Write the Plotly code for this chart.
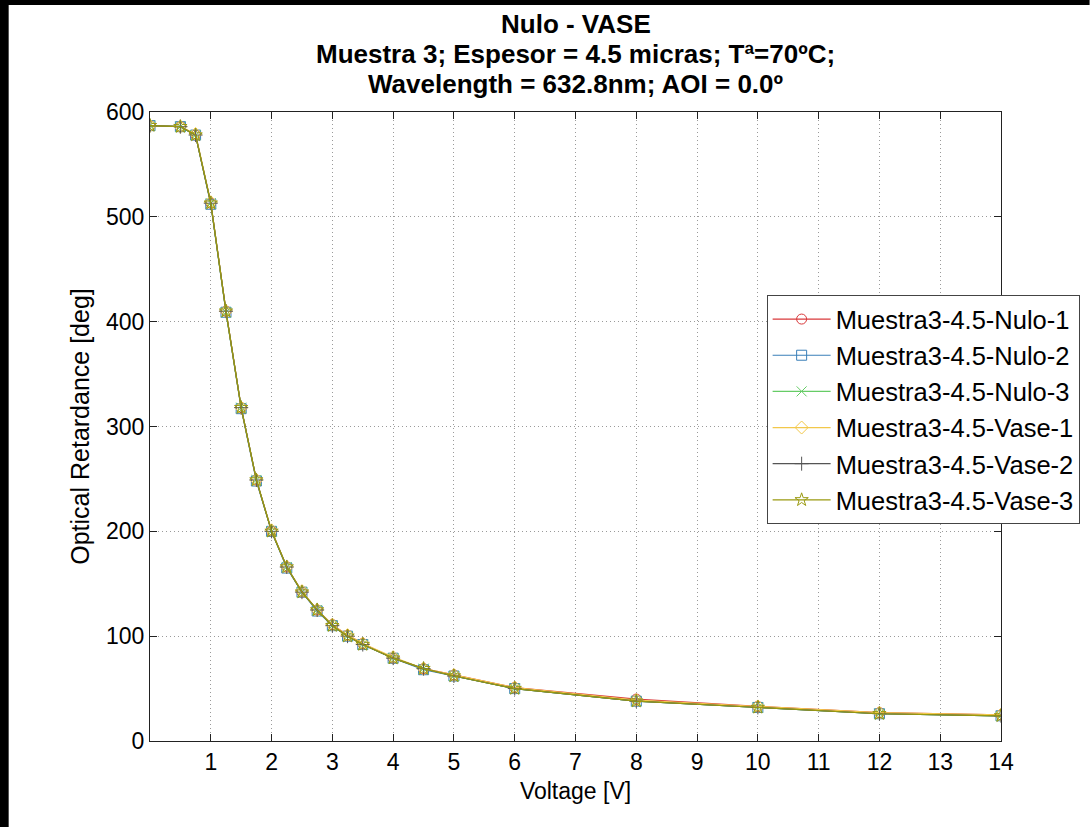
import plotly.graph_objects as go

voltage = [0, 0.5, 0.75, 1, 1.25, 1.5, 1.75, 2, 2.25, 2.5, 2.75, 3, 3.25, 3.5, 4, 4.5, 5, 6, 8, 10, 12, 14]

nulo_1 = [587, 586, 578, 513, 410, 318, 249, 200, 166, 142, 125, 111, 101, 93, 79, 69, 63, 51, 40, 33, 27, 25]
nulo_2 = [587, 586, 578, 512, 409, 317, 248, 200, 165, 142, 124, 110, 100, 92, 79, 68, 62, 50, 38, 32, 26, 24]
nulo_3 = [587, 586, 578, 513, 409, 318, 249, 200, 166, 142, 125, 110, 100, 92, 79, 69, 62, 50, 38, 32, 26, 24]
vase_1 = [587, 586, 579, 514, 410, 318, 249, 201, 166, 143, 125, 111, 101, 93, 80, 69, 63, 51, 39, 33, 27, 25]
vase_2 = [587, 586, 578, 513, 410, 318, 249, 200, 166, 142, 125, 110, 100, 92, 79, 69, 62, 50, 38, 32, 26, 24]
vase_3 = [587, 586, 578, 513, 410, 318, 249, 200, 166, 142, 125, 110, 100, 92, 79, 69, 62, 50, 38, 32, 26, 24]

names = ["Muestra3-4.5-Nulo-1", "Muestra3-4.5-Nulo-2", "Muestra3-4.5-Nulo-3",
         "Muestra3-4.5-Vase-1", "Muestra3-4.5-Vase-2", "Muestra3-4.5-Vase-3"]
series = [nulo_1, nulo_2, nulo_3, vase_1, vase_2, vase_3]
colors = ["#d9393b", "#3a7fb8", "#66cc66", "#f2c84b", "#555555", "#9a9a10"]
symbols = ["circle-open", "square-open", "x-thin-open", "diamond-open", "cross-thin-open", "star-open"]

x_ticks = list(range(1, 15))
y_ticks = [0, 100, 200, 300, 400, 500, 600]

title_lines = ["Nulo - VASE",
               "Muestra 3; Espesor = 4.5 micras; Tª=70ºC;",
               "Wavelength = 632.8nm; AOI = 0.0º"]

FONT = "Liberation Sans, Arial, sans-serif"

fig = go.Figure()
for n, s, c, m in zip(names, series, colors, symbols):
    fig.add_trace(go.Scatter(
        x=voltage, y=s, name=n, mode="lines+markers",
        line=dict(color=c, width=1.2),
        marker=dict(symbol=m, size=10, color=c, line=dict(color=c, width=1)),
    ))

L, R, T, B = 150, 87, 112, 86
W, H = 1092, 827
pw, ph = W - L - R, H - T - B

def py(pix):  # pixel row from top -> paper y
    return (H - B - pix) / ph

def px(pix):  # pixel column from left -> paper x
    return (pix - L) / pw

shapes = [
    dict(type="rect", xref="paper", yref="paper",
         x0=px(-2), x1=px(8), y0=py(H + 2), y1=py(-2),
         fillcolor="black", line=dict(width=0), layer="above"),
    dict(type="rect", xref="paper", yref="paper",
         x0=px(-2), x1=px(W + 2), y0=py(5), y1=py(-2),
         fillcolor="black", line=dict(width=0), layer="above"),
]

annotations = []
for i, t in enumerate(title_lines):
    annotations.append(dict(
        text="<b>" + t + "</b>", xref="paper", yref="paper",
        x=px(L + pw / 2), y=py(24 + 30 * i), xanchor="center", yanchor="middle",
        showarrow=False, font=dict(family=FONT, size=26, color="black"),
    ))

axis_common = dict(
    showline=True, linecolor="#222222", linewidth=1, mirror="ticks",
    ticks="inside", ticklen=7, tickcolor="#222222",
    showgrid=True, gridcolor="#9a9a9a", griddash="1px,3px", gridwidth=1,
    zeroline=False, tickfont=dict(family=FONT, size=23, color="black"),
)

fig.update_layout(
    width=W, height=H,
    margin=dict(l=L, r=R, t=T, b=B),
    paper_bgcolor="white", plot_bgcolor="white",
    font=dict(family=FONT, color="black"),
    xaxis=dict(range=[0, 14], tickvals=x_ticks, ticktext=[str(v) for v in x_ticks],
               title=dict(text="Voltage [V]", font=dict(family=FONT, size=23), standoff=9),
               **axis_common),
    yaxis=dict(range=[0, 600], tickvals=y_ticks, ticktext=[str(v) for v in y_ticks],
               title=dict(text="Optical Retardance [deg]", font=dict(family=FONT, size=25), standoff=9),
               **axis_common),
    legend=dict(
        x=px(1084), xanchor="right", y=py(295), yanchor="top",
        bgcolor="white", bordercolor="#444444", borderwidth=1,
        font=dict(family=FONT, size=25.5, color="black"),
        itemwidth=58, tracegroupgap=0,
    ),
    shapes=shapes,
    annotations=annotations,
    showlegend=True,
)

fig.write_html("out.html")
